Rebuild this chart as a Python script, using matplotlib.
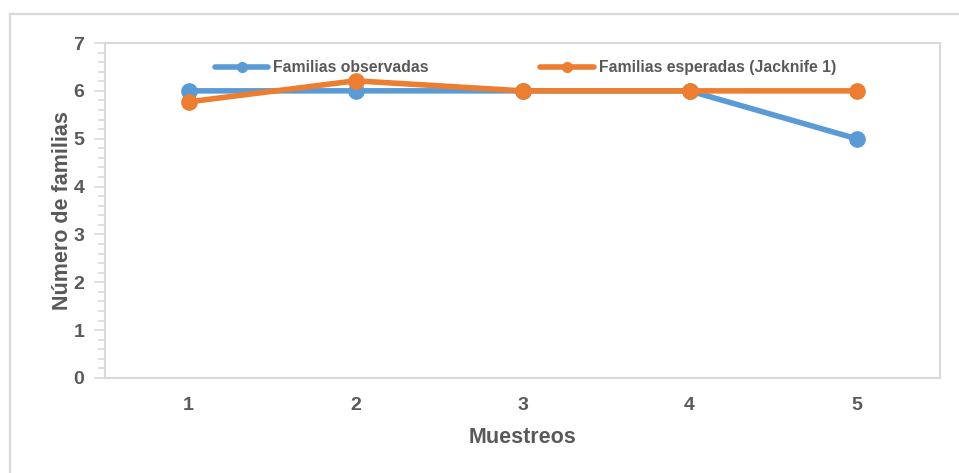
import matplotlib.pyplot as plt
from matplotlib.lines import Line2D
from matplotlib.ticker import MultipleLocator

plt.rcParams['font.family'] = ['Liberation Sans', 'DejaVu Sans']

# Data
muestreos = [1, 2, 3, 4, 5]
observadas = [6, 6, 6, 6, 5]
esperadas = [5.77, 6.21, 6, 6, 6]

blue = '#5b9bd5'
orange = '#ed7d31'
text_gray = '#595959'
frame_gray = '#d9d9d9'

W, H = 959, 473
fig = plt.figure(figsize=(W / 100, H / 100), dpi=100)

# outer chart frame (only top and left edges fall inside the image)
fig.add_artist(Line2D([10 / W, 10 / W], [0, 1 - 14 / H], transform=fig.transFigure,
                      color=frame_gray, lw=1.6))
fig.add_artist(Line2D([10 / W, 1], [1 - 14 / H, 1 - 14 / H], transform=fig.transFigure,
                      color=frame_gray, lw=1.6))

left, right, top, bottom = 105, 940, 43, 378
ax = fig.add_axes([left / W, 1 - bottom / H, (right - left) / W, (bottom - top) / H])

ax.plot(muestreos, observadas, color=blue, lw=4, marker='o', ms=11,
        label='Familias observadas', solid_capstyle='round')
ax.plot(muestreos, esperadas, color=orange, lw=4, marker='o', ms=11,
        label='Familias esperadas (Jacknife 1)', solid_capstyle='round')

ax.set_xlim(0.5, 5.5)
ax.set_ylim(0, 7)
ax.set_xticks(muestreos)
ax.yaxis.set_major_locator(MultipleLocator(1))
ax.yaxis.set_minor_locator(MultipleLocator(0.2))

for s in ax.spines.values():
    s.set_color(frame_gray)
    s.set_linewidth(1.5)

ax.tick_params(axis='y', which='both', direction='out', color=frame_gray,
               width=1.2, labelsize=14, labelcolor=text_gray, pad=7)
ax.tick_params(axis='y', which='major', length=8)
ax.tick_params(axis='y', which='minor', length=5)
ax.tick_params(axis='x', length=0, labelsize=14, labelcolor=text_gray, pad=14)
for lbl in ax.get_xticklabels() + ax.get_yticklabels():
    lbl.set_fontweight('bold')

ax.set_xlabel('Muestreos', fontsize=15.5, fontweight='bold', color=text_gray, labelpad=9)
ax.set_ylabel('Número de familias', fontsize=15.5, fontweight='bold', color=text_gray, labelpad=0)

handles = [Line2D([], [], color=blue, lw=4, marker='o', ms=7, solid_capstyle='round'),
           Line2D([], [], color=orange, lw=4, marker='o', ms=7, solid_capstyle='round')]
leg = ax.legend(handles, ['Familias observadas', 'Familias esperadas (Jacknife 1)'],
                loc='upper center', bbox_to_anchor=(0.5036, 0.99), ncol=2, frameon=False,
                prop={'weight': 'bold', 'size': 11.3}, handlelength=3.4,
                columnspacing=7.1, handletextpad=0.32, labelcolor=text_gray)

fig.savefig('out.png', dpi=100)
